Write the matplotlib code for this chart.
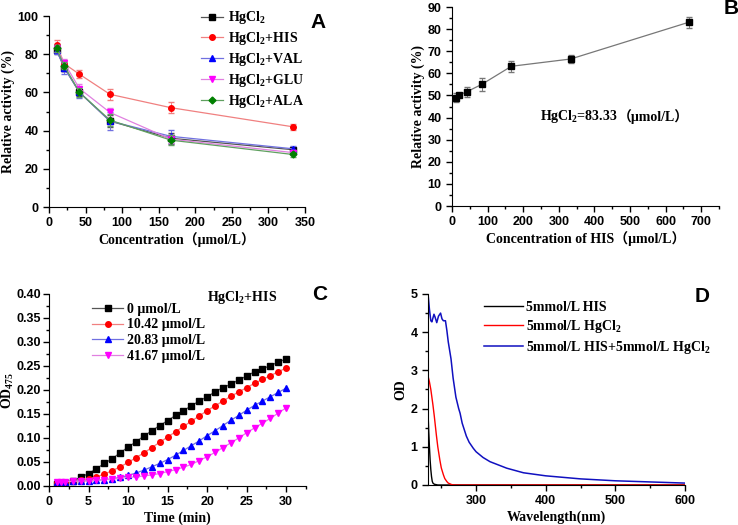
import numpy as np
import matplotlib.pyplot as plt
from matplotlib.ticker import MultipleLocator

plt.rcParams['font.family'] = ['Liberation Sans', 'DejaVu Sans']
plt.rcParams['mathtext.fontset'] = 'custom'
plt.rcParams['mathtext.rm'] = 'Liberation Serif:bold'
plt.rcParams['mathtext.it'] = 'Liberation Serif:bold:italic'
plt.rcParams['mathtext.bf'] = 'Liberation Serif:bold'

SERIF = ['Liberation Serif', 'Noto Sans CJK SC', 'DejaVu Serif']

# ---- A: relative activity vs concentration
conc = [10.42, 20.83, 41.67, 83.33, 166.67, 333.33]
a_names = ['HgCl$_2$', 'HgCl$_2$+HIS', 'HgCl$_2$+VAL', 'HgCl$_2$+GLU', 'HgCl$_2$+ALA']
a_hg = [82, 73, 60, 45, 36, 30]
a_his = [85, 75, 69.5, 59, 52, 42]
a_val = [82, 73, 60, 45, 37, 30.5]
a_glu = [83, 75.5, 62, 49.5, 35.5, 28.5]
a_ala = [83, 74, 60, 45.5, 35, 27.5]
a_err_hg = [2, 2, 2, 3, 3, 1.5]
a_err_his = [2.5, 2, 2, 3, 3, 1.5]
a_err_val = [2, 3.5, 3, 4.5, 3.5, 1.5]
a_err_glu = [2, 2, 2.5, 2.5, 2, 1.5]
a_err_ala = [2, 2, 2.5, 3, 2.5, 1.5]

# ---- B: HIS concentration
b_conc = [10.42, 20.83, 41.67, 83.33, 166.67, 333.33, 666.67]
b_act = [49, 50.3, 51.7, 55, 63.2, 66.5, 83.2]
b_err = [2, 1, 2.2, 2.8, 2.5, 1.8, 2.5]

# ---- C: OD475 vs time
t = [1, 1.5, 2] + list(range(3, 31))
c_names = ['0 μmol/L', '10.42 μmol/L', '20.83 μmol/L', '41.67 μmol/L']
c_0 = [0.005, 0.006, 0.007, 0.011, 0.018, 0.026, 0.036, 0.047, 0.057, 0.069,
       0.081, 0.092, 0.104, 0.115, 0.126, 0.136, 0.147, 0.157, 0.167, 0.177,
       0.186, 0.196, 0.205, 0.212, 0.221, 0.229, 0.238, 0.244, 0.251, 0.258, 0.265]
c_10 = [0.007, 0.008, 0.008, 0.010, 0.012, 0.015, 0.019, 0.025, 0.032, 0.040,
        0.049, 0.059, 0.069, 0.080, 0.091, 0.102, 0.113, 0.124, 0.135, 0.146,
        0.157, 0.167, 0.177, 0.187, 0.196, 0.205, 0.214, 0.222, 0.230, 0.238, 0.246]
c_20 = [0.008, 0.008, 0.009, 0.010, 0.011, 0.011, 0.012, 0.013, 0.015, 0.018,
        0.022, 0.027, 0.033, 0.040, 0.047, 0.055, 0.064, 0.074, 0.084, 0.094,
        0.105, 0.115, 0.126, 0.137, 0.147, 0.158, 0.168, 0.177, 0.186, 0.195, 0.204]
c_41 = [0.009, 0.009, 0.009, 0.010, 0.010, 0.011, 0.012, 0.013, 0.014, 0.016,
        0.018, 0.019, 0.021, 0.023, 0.026, 0.030, 0.034, 0.039, 0.045, 0.053,
        0.061, 0.070, 0.080, 0.090, 0.100, 0.111, 0.121, 0.131, 0.141, 0.152, 0.163]

# ---- D: absorption spectra
d_names = ['5mmol/L HIS', '5mmol/L HgCl$_2$', '5mmol/L HIS+5mmol/L HgCl$_2$']
wl_his = [231, 232, 233, 234, 235, 236, 237, 238, 240, 245, 600]
od_his = [1.9, 1.4, 1.0, 0.65, 0.4, 0.22, 0.1, 0.05, 0.02, 0.0, 0.0]
wl_hg = [231, 233, 235, 238, 240, 243, 245, 248, 250, 253, 255, 258, 260, 265, 270, 600]
od_hg = [2.85, 2.7, 2.5, 2.1, 1.8, 1.3, 1.0, 0.65, 0.45, 0.27, 0.17, 0.09, 0.05, 0.01, 0.0, 0.0]
wl_mix = [231, 233, 235, 236.5, 239.5, 241, 243.5, 246, 249, 251, 253, 256, 258, 260,
          264, 267, 271, 275, 277, 280, 286, 290, 296, 300, 310, 320, 344, 368,
          400, 450, 500, 550, 600]
od_mix = [5.0, 4.6, 4.3, 4.27, 4.47, 4.4, 4.25, 4.42, 4.5, 4.35, 4.3, 4.3, 4.05, 3.75,
          3.3, 2.8, 2.3, 2.0, 1.88, 1.62, 1.28, 1.12, 0.96, 0.87, 0.72, 0.61, 0.44, 0.32,
          0.24, 0.16, 0.11, 0.08, 0.05]

fig = plt.figure(figsize=(7.38, 5.25), dpi=100)


def style(ax):
    ax.spines['top'].set_visible(False)
    ax.spines['right'].set_visible(False)
    ax.tick_params(which='both', direction='out', labelsize=9, width=1)
    ax.tick_params(which='major', length=4)
    ax.tick_params(which='minor', length=2)
    for lab in ax.get_xticklabels() + ax.get_yticklabels():
        lab.set_fontweight('bold')


def label(ax, xl, yl, ypad=2):
    ax.set_xlabel(xl, family=SERIF, fontweight='bold', fontsize=10, labelpad=2)
    ax.set_ylabel(yl, family=SERIF, fontweight='bold', fontsize=10, labelpad=ypad)


# A
axA = fig.add_axes([0.0664, 0.6057, 0.3469, 0.3638])
a_series = [a_hg, a_his, a_val, a_glu, a_ala]
a_errs = [a_err_hg, a_err_his, a_err_val, a_err_glu, a_err_ala]
a_marks = ['s', 'o', '^', 'v', 'D']
a_cols = ['black', 'red', 'blue', 'magenta', 'green']
a_lcols = ['#555555', '#f08080', '#7070e0', '#e080e0', '#60a060']
for ys, es, m, c, lc, n in zip(a_series, a_errs, a_marks, a_cols, a_lcols, a_names):
    ms = 4 if m != 'D' else 3.5
    axA.errorbar(conc, ys, yerr=es, fmt='none', ecolor=lc, elinewidth=0.7, capsize=2)
    axA.plot(conc, ys, marker=m, color=lc, mfc=c, mec=c, ms=ms, lw=0.9, label=n)
axA.set_xlim(0, 350)
axA.set_ylim(0, 100)
axA.xaxis.set_major_locator(MultipleLocator(50))
axA.xaxis.set_minor_locator(MultipleLocator(25))
axA.yaxis.set_major_locator(MultipleLocator(20))
axA.yaxis.set_minor_locator(MultipleLocator(10))
style(axA)
label(axA, 'Concentration（μmol/L）', 'Relative activity (%)')
axA.legend(loc='upper left', bbox_to_anchor=(0.545, 1.1), frameon=False,
           prop={'family': 'Liberation Serif', 'weight': 'bold', 'size': 10},
           handlelength=1.6, handletextpad=0.35, labelspacing=0.28)
fig.text(318 / 738, 1 - 22 / 525, 'A', fontsize=15, fontweight='bold',
         ha='center', va='center')

# B
axB = fig.add_axes([0.6125, 0.6076, 0.3618, 0.379])
axB.errorbar(b_conc, b_act, yerr=b_err, marker='s', color='#777777', mfc='black',
             mec='black', ms=4, lw=0.9, elinewidth=0.7, capsize=2, ecolor='#777777')
axB.set_xlim(0, 750)
axB.set_ylim(0, 90)
axB.xaxis.set_major_locator(MultipleLocator(100))
axB.xaxis.set_minor_locator(MultipleLocator(50))
axB.yaxis.set_major_locator(MultipleLocator(10))
axB.yaxis.set_minor_locator(MultipleLocator(5))
style(axB)
label(axB, 'Concentration of HIS（μmol/L）', 'Relative activity (%)')
tb = axB.text(0.33, 0.45, 'HgCl$_2$=83.33', transform=axB.transAxes,
              family=SERIF, fontweight='bold', fontsize=10, ha='left', va='center')
axB.annotate('（μmol/L）', xy=(1, 0.5), xycoords=tb, va='center', ha='left',
             family=SERIF, fontweight='bold', fontsize=10)
fig.text(731 / 738, 1 - 9 / 525, 'B', fontsize=15, fontweight='bold',
         ha='center', va='center')

# C
axC = fig.add_axes([0.0664, 0.0743, 0.3482, 0.3657])
c_series = [c_0, c_10, c_20, c_41]
c_marks = ['s', 'o', '^', 'v']
c_cols = ['black', 'red', 'blue', 'magenta']
c_lcols = ['#555555', '#f08080', '#7070e0', '#e080e0']
for ys, m, c, lc, n in zip(c_series, c_marks, c_cols, c_lcols, c_names):
    axC.plot(t, ys, marker=m, color=lc, mfc=c, mec=c, ms=4, lw=0.9, label=n)
axC.set_xlim(0, 32.5)
axC.set_ylim(0, 0.4)
axC.xaxis.set_major_locator(MultipleLocator(5))
axC.xaxis.set_minor_locator(MultipleLocator(2.5))
axC.yaxis.set_major_locator(MultipleLocator(0.05))
axC.yaxis.set_minor_locator(MultipleLocator(0.025))
axC.yaxis.set_major_formatter(plt.FormatStrFormatter('%.2f'))
style(axC)
label(axC, 'Time (min)', 'OD$_{475}$', ypad=0)
axC.tick_params(axis='y', pad=2)
axC.legend(loc='upper left', bbox_to_anchor=(0.12, 1.02), frameon=False,
           prop={'family': SERIF, 'weight': 'bold', 'size': 10},
           handlelength=2.2, handletextpad=0.3, labelspacing=0.2)
axC.text(0.75, 0.98, 'HgCl$_2$+HIS', transform=axC.transAxes, family=SERIF,
         fontweight='bold', fontsize=10, ha='center', va='center')
fig.text(320 / 738, 1 - 295 / 525, 'C', fontsize=15, fontweight='bold',
         ha='center', va='center')

# D
axD = fig.add_axes([0.58, 0.0762, 0.3482, 0.3638])
axD.plot(wl_his, od_his, color='black', lw=1)
axD.plot(wl_hg, od_hg, color='red', lw=1)
axD.plot(wl_mix, od_mix, color='#1010c0', lw=1.1)
axD.set_xlim(231, 600)
axD.set_ylim(0, 5)
axD.xaxis.set_major_locator(MultipleLocator(100))
axD.xaxis.set_minor_locator(MultipleLocator(50))
axD.yaxis.set_major_locator(MultipleLocator(1))
axD.yaxis.set_minor_locator(MultipleLocator(0.5))
style(axD)
label(axD, 'Wavelength(nm)', 'OD')
axD.legend(d_names, loc='upper left', bbox_to_anchor=(0.17, 1.03), frameon=False,
           prop={'family': 'Liberation Serif', 'weight': 'bold', 'size': 10},
           handlelength=2.8, handletextpad=0.2, labelspacing=0.3)
fig.text(702 / 738, 1 - 296 / 525, 'D', fontsize=15, fontweight='bold',
         ha='center', va='center')

fig.savefig('out.png', dpi=100)
